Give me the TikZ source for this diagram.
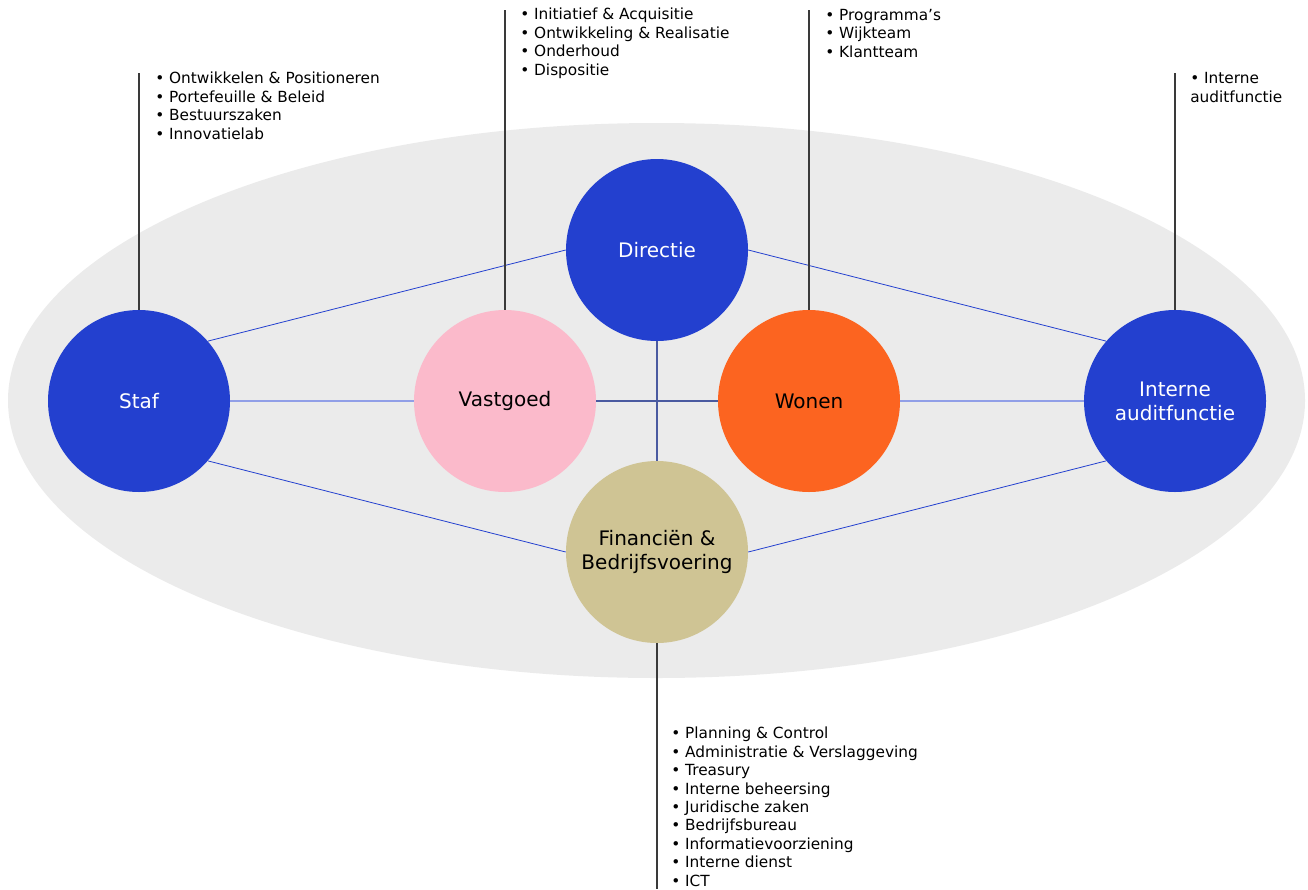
\documentclass[tikz,border=0pt]{standalone}
\usepackage{fontspec}
\setmainfont{DejaVu Sans}
\definecolor{blauw}{HTML}{2340CF}
\definecolor{roze}{HTML}{FBBACB}
\definecolor{oranje}{HTML}{FC6420}
\definecolor{zand}{HTML}{CFC494}
\definecolor{grijs}{HTML}{EBEBEB}
\definecolor{kruisblauw}{HTML}{4A5AA0}
\definecolor{stokgrijs}{HTML}{3A3A3A}
\tikzset{
  unit/.style={circle,inner sep=0pt,minimum size=136.5pt,align=center,
    font=\fontsize{15}{18}\selectfont},
  lijst/.style={anchor=base west,inner sep=0pt,align=left,
    font=\fontsize{11.5}{13.8}\selectfont},
  lijn/.style={draw=blauw,line width=0.6pt},
  vlak/.style={draw=blauw!50,line width=1.1pt},
  kruis/.style={draw=kruisblauw,line width=1.1pt},
  stok/.style={draw=stokgrijs,line width=0.8pt}
}
\begin{document}
\begin{tikzpicture}[x=0.75pt,y=-0.75pt]
  \useasboundingbox (0,0) rectangle (1308,889);
  \fill[grijs] (656.5,400.5) ellipse [x radius=648.5,y radius=277.5];
  \draw
    (139,401) node[unit,fill=blauw,text=white] (staf){Staf}
    (505,401) node[unit,fill=roze] (vastgoed){Vastgoed}
    (657,250) node[unit,fill=blauw,text=white] (directie){Directie}
    (809,401) node[unit,fill=oranje] (wonen){Wonen}
    (1175,401) node[unit,fill=blauw,text=white] (audit){Interne\\auditfunctie}
    (657,552) node[unit,fill=zand] (financien){Financiën \&\\Bedrijfsvoering};
  \coordinate (staf-top) at (139,73);
  \coordinate (vastgoed-top) at (505,10);
  \coordinate (wonen-top) at (809,10);
  \coordinate (audit-top) at (1175,73);
  \coordinate (financien-bottom) at (657,889);
  \begin{scope}[lijn]
    \draw (staf.41) to (directie.west);
    \draw (staf.-41) to (financien.west);
    \draw (directie.east) to (audit.139);
    \draw (financien.east) to (audit.-139);
  \end{scope}
  \begin{scope}[vlak]
    \draw (staf) to (vastgoed);
    \draw (wonen) to (audit);
  \end{scope}
  \begin{scope}[kruis]
    \draw (vastgoed) to (wonen);
    \draw (directie) to (financien);
  \end{scope}
  \begin{scope}[stok]
    \draw (staf) to (staf-top);
    \draw (vastgoed) to (vastgoed-top);
    \draw (wonen) to (wonen-top);
    \draw (audit) to (audit-top);
    \draw (financien) to (financien-bottom);
  \end{scope}
  % lists: anchor is the baseline of the last line
  \node[lijst] (staf-lijst) at (155,139)
    {• Ontwikkelen \& Positioneren\\• Portefeuille \& Beleid\\• Bestuurszaken\\• Innovatielab};
  \node[lijst] (vastgoed-lijst) at (520,75)
    {• Initiatief \& Acquisitie\\• Ontwikkeling \& Realisatie\\• Onderhoud\\• Dispositie};
  \node[lijst] (wonen-lijst) at (825,57)
    {• Programma’s\\• Wijkteam\\• Klantteam};
  \node[lijst] (audit-lijst) at (1190,102)
    {• Interne\\auditfunctie};
  \node[lijst] (financien-lijst) at (671,886)
    {• Planning \& Control\\• Administratie \& Verslaggeving\\• Treasury\\• Interne beheersing\\• Juridische zaken\\• Bedrijfsbureau\\• Informatievoorziening\\• Interne dienst\\• ICT};
\end{tikzpicture}
\end{document}
